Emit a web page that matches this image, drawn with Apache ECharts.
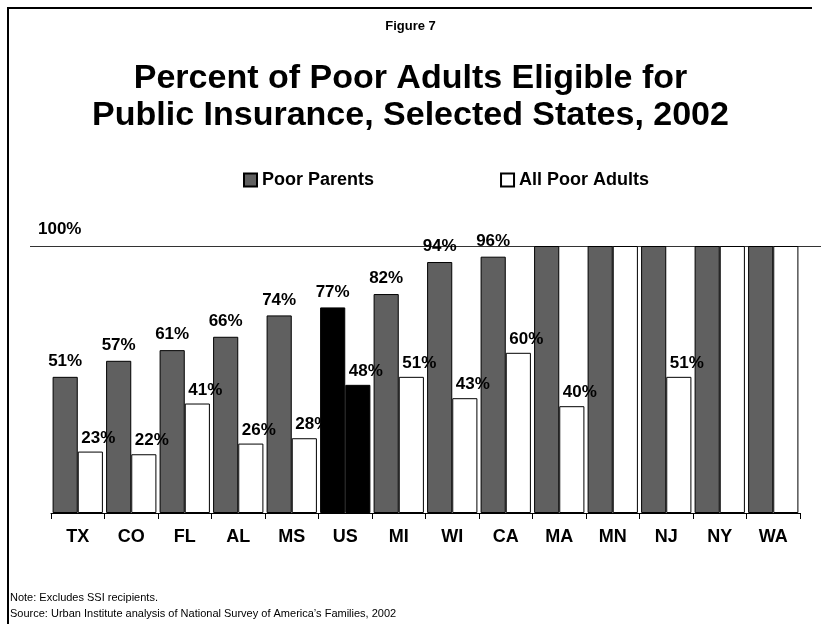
<!DOCTYPE html>
<html>
<head>
<meta charset="utf-8">
<style>
  html, body { margin: 0; padding: 0; background: #fff; }
  #chart { width: 821px; height: 624px; }
</style>
<script src="https://cdn.jsdelivr.net/npm/echarts@6/dist/echarts.min.js"></script>
</head>
<body>
<div id="chart"></div>
<script>
// Percent of poor adults eligible for public insurance, by state, 2002
const states = ['TX', 'CO', 'FL', 'AL', 'MS', 'US', 'MI', 'WI', 'CA', 'MA', 'MN', 'NJ', 'NY', 'WA'];
const poorParents = [51, 57, 61, 66, 74, 77, 82, 94, 96, 100, 100, 100, 100, 100];
const allPoorAdults = [23, 22, 41, 26, 28, 48, 51, 43, 60, 40, 100, 51, 100, 100];
const seriesNames = ['Poor Parents', 'All Poor Adults'];
const nationalCategory = 'US';

const FONT = '"Liberation Sans", Arial, sans-serif';
const GRAY = '#606060';

// Values below 100% get a percent label; the US pair is drawn in black
function buildData(values) {
  return values.map((v, i) => {
    const item = { value: v };
    if (states[i] === nationalCategory) item.itemStyle = { color: '#000' };
    return item;
  });
}
const pctLabel = p => (p.value < 100 ? p.value + '%' : '');

const chart = echarts.init(document.getElementById('chart'), null, { renderer: 'canvas' });

chart.setOption({
  animation: false,
  backgroundColor: '#fff',
  textStyle: { fontFamily: FONT },
  title: [
    {
      text: 'Figure 7',
      left: 'center', top: 15,
      textStyle: { fontFamily: FONT, fontSize: 13, fontWeight: 'bold', color: '#000' }
    },
    {
      text: 'Percent of Poor Adults Eligible for\nPublic Insurance, Selected States, 2002',
      left: 'center', top: 55,
      textStyle: { fontFamily: FONT, fontSize: 34, fontWeight: 'bold', color: '#000', lineHeight: 37 }
    },
    {
      text: 'Note: Excludes SSI recipients.\nSource: Urban Institute analysis of National Survey of America\u2019s Families, 2002',
      left: 10, top: 590, padding: 0,
      textStyle: { fontFamily: FONT, fontSize: 11, fontWeight: 'normal', color: '#000', lineHeight: 16 }
    }
  ],
  legend: {
    data: seriesNames,
    left: 243, top: 171, padding: 0,
    itemWidth: 13, itemHeight: 13, itemGap: 126,
    icon: 'rect',
    textStyle: { fontFamily: FONT, fontSize: 18, fontWeight: 'bold', color: '#000' }
  },
  grid: [
    { left: 51, right: 21, top: 246, bottom: 111 },
    { left: 30, right: 0, top: 246, bottom: 111 }
  ],
  xAxis: [
    {
      type: 'category', gridIndex: 0, data: states,
      axisLine: { lineStyle: { color: '#000', width: 1 } },
      axisTick: { show: true, length: 6, lineStyle: { color: '#000' } },
      axisLabel: { margin: 15, fontFamily: FONT, fontSize: 18, fontWeight: 'bold', color: '#000' }
    },
    { type: 'value', gridIndex: 1, min: 0, max: 1, show: false }
  ],
  yAxis: [
    { type: 'value', gridIndex: 0, min: 0, max: 100, show: false },
    {
      type: 'value', gridIndex: 1, min: 0, max: 100, interval: 100,
      axisLine: { show: false }, axisTick: { show: false }, axisLabel: { show: false },
      name: '100%', nameLocation: 'end', nameGap: 8,
      nameTextStyle: { fontFamily: FONT, fontSize: 17, fontWeight: 'bold', color: '#000', align: 'left', padding: [0, 0, 0, 8] },
      splitLine: { show: true, lineStyle: { color: ['rgba(0,0,0,0)', '#333'], width: 1 } }
    }
  ],
  series: [
    {
      name: seriesNames[0], type: 'bar', xAxisIndex: 0, yAxisIndex: 0,
      data: buildData(poorParents),
      barGap: '0%', barCategoryGap: '6%',
      itemStyle: { color: GRAY, borderColor: '#000', borderWidth: 1 },
      label: {
        show: true, position: 'top', distance: 7, formatter: pctLabel,
        fontFamily: FONT, fontSize: 17, fontWeight: 'bold', color: '#000'
      }
    },
    {
      name: seriesNames[1], type: 'bar', xAxisIndex: 0, yAxisIndex: 0,
      data: buildData(allPoorAdults),
      barGap: '0%', barCategoryGap: '6%',
      itemStyle: { color: '#fff', borderColor: '#000', borderWidth: 1 },
      label: {
        show: true, position: 'top', distance: 5, offset: [8, 0], formatter: pctLabel,
        fontFamily: FONT, fontSize: 17, fontWeight: 'bold', color: '#000'
      }
    }
  ],
  graphic: [
    // frame along the top and left edges of the figure
    { type: 'line', shape: { x1: 7, y1: 8, x2: 812, y2: 8 }, style: { stroke: '#000', lineWidth: 2 } },
    { type: 'line', shape: { x1: 8, y1: 7, x2: 8, y2: 624 }, style: { stroke: '#000', lineWidth: 2 } }
  ]
});
</script>
</body>
</html>
